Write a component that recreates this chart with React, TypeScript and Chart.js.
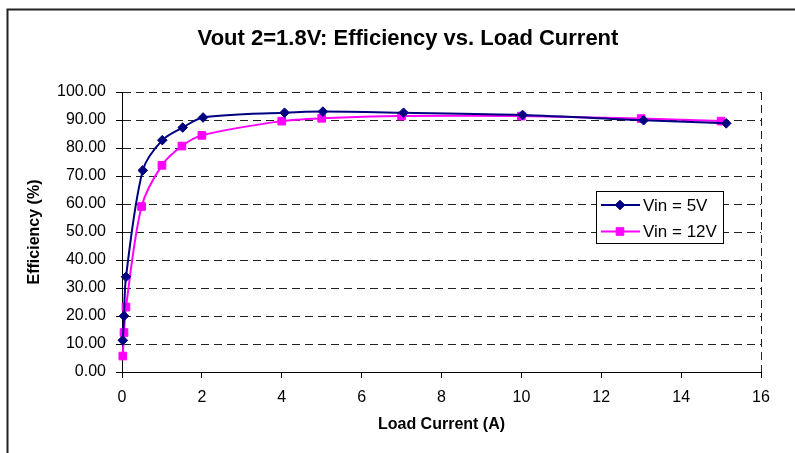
import React, { useEffect, useRef } from "react";
import { Chart, registerables } from "chart.js";

Chart.register(...registerables);

const chartTitle = "Vout 2=1.8V: Efficiency vs. Load Current";
const xAxisTitle = "Load Current (A)";
const yAxisTitle = "Efficiency (%)";

const seriesNames = ["Vin = 5V", "Vin = 12V"];
const seriesColors = ["#000080", "#FF00FF"];
const seriesMarkers = ["rectRot", "rect"];

const current5V = [0.02, 0.05, 0.1, 0.52, 1.01, 1.52, 2.03, 4.07, 5.03, 7.05, 10.03, 13.06, 15.13];
const eff5V = [11.3, 20.0, 34.0, 72.0, 82.8, 87.3, 90.9, 92.6, 93.0, 92.6, 91.8, 89.9, 88.8];

const current12V = [0.02, 0.05, 0.1, 0.49, 1.0, 1.5, 2.0, 4.0, 5.0, 7.0, 10.0, 13.0, 15.0];
const eff12V = [5.7, 14.1, 23.2, 59.1, 73.8, 80.7, 84.5, 89.6, 90.6, 91.4, 91.4, 90.5, 89.6];

const xMin = 0;
const xMax = 16;
const xStep = 2;
const yMin = 0;
const yMax = 100;
const yStep = 10;

const FONT = "'Liberation Sans', Arial, Helvetica, sans-serif";

const framePlugin = {
  id: "frameAndTitle",
  beforeDraw(chart: any) {
    const ctx = chart.ctx;
    ctx.save();
    ctx.fillStyle = "#ffffff";
    ctx.fillRect(0, 0, chart.width, chart.height);
    ctx.strokeStyle = "#222222";
    ctx.lineWidth = 2;
    ctx.strokeRect(7.5, 9.5, chart.width + 20, chart.height + 20);
    ctx.restore();
  },
  afterDraw(chart: any) {
    const ctx = chart.ctx;
    ctx.save();
    // title
    ctx.fillStyle = "#000";
    ctx.font = `bold 22px ${FONT}`;
    ctx.textAlign = "center";
    ctx.textBaseline = "middle";
    ctx.fillText(chartTitle, 408, 39);
    // legend
    const bx = 596.5, by = 191.5, bw = 127, bh = 52;
    ctx.fillStyle = "#fff";
    ctx.fillRect(bx, by, bw, bh);
    ctx.strokeStyle = "#000";
    ctx.lineWidth = 1;
    ctx.strokeRect(bx, by, bw, bh);
    const rows = [205, 231.5];
    chart.data.datasets.forEach((ds: any, i: number) => {
      const y = rows[i];
      ctx.strokeStyle = ds.borderColor;
      ctx.lineWidth = 2;
      ctx.beginPath();
      ctx.moveTo(601, y);
      ctx.lineTo(640, y);
      ctx.stroke();
      ctx.fillStyle = ds.backgroundColor;
      ctx.strokeStyle = ds.borderColor;
      ctx.lineWidth = 1;
      const r = ds.pointRadius;
      ctx.beginPath();
      if (ds.pointStyle === "rectRot") {
        ctx.moveTo(620, y - r);
        ctx.lineTo(620 + r, y);
        ctx.lineTo(620, y + r);
        ctx.lineTo(620 - r, y);
        ctx.closePath();
      } else {
        const s = r * Math.SQRT1_2;
        ctx.rect(620 - s, y - s, 2 * s, 2 * s);
      }
      ctx.fill();
      ctx.stroke();
      ctx.fillStyle = "#000";
      ctx.font = `17px ${FONT}`;
      ctx.textAlign = "left";
      ctx.textBaseline = "middle";
      ctx.fillText(ds.label, 643, y + 1);
    });
    ctx.restore();
  },
};

export default function App() {
  const canvasRef = useRef<HTMLCanvasElement | null>(null);

  useEffect(() => {
    if (!canvasRef.current) return;
    const makePoints = (xs: number[], ys: number[]) => xs.map((x, i) => ({ x, y: ys[i] }));
    const chart = new Chart(canvasRef.current, {
      type: "line",
      data: {
        datasets: [
          {
            label: seriesNames[0],
            data: makePoints(current5V, eff5V),
            borderColor: seriesColors[0],
            backgroundColor: seriesColors[0],
            pointStyle: seriesMarkers[0] as any,
            pointRadius: 4.8,
            pointBorderWidth: 1,
            borderWidth: 2,
            tension: 0.3,
            clip: false as any,
          },
          {
            label: seriesNames[1],
            data: makePoints(current12V, eff12V),
            borderColor: seriesColors[1],
            backgroundColor: seriesColors[1],
            pointStyle: seriesMarkers[1] as any,
            pointRadius: 5.4,
            pointBorderWidth: 1,
            borderWidth: 2,
            tension: 0.3,
            clip: false as any,
          },
        ],
      },
      plugins: [framePlugin],
      options: {
        animation: false,
        responsive: true,
        maintainAspectRatio: false,
        devicePixelRatio: 1,
        layout: { padding: { left: 0, top: 92, right: 34, bottom: 0 } },
        plugins: {
          legend: { display: false },
          title: { display: false },
          tooltip: { enabled: false },
        },
        scales: {
          x: {
            type: "linear",
            min: xMin,
            max: xMax,
            ticks: {
              stepSize: xStep,
              color: "#000",
              padding: 10,
              maxRotation: 0,
              font: { family: FONT, size: 16 },
            },
            grid: {
              color: (c: any) => (c.tick && c.tick.value === xMax ? "#222" : "transparent"),
              tickColor: "#000",
              tickLength: 6,
              lineWidth: 1,
            },
            border: { display: true, color: "#000", width: 1, dash: [8, 5] },
            title: {
              display: true,
              text: xAxisTitle,
              color: "#000",
              font: { family: FONT, size: 16, weight: "bold" },
              padding: { top: 0, bottom: 19 },
            },
            afterFit: (scale: any) => {
              scale.height = 81;
            },
          },
          y: {
            min: yMin,
            max: yMax,
            ticks: {
              stepSize: yStep,
              color: "#000",
              padding: 10,
              font: { family: FONT, size: 16 },
              callback: (v: any) => Number(v).toFixed(2),
            },
            grid: {
              color: "#222",
              tickColor: "#000",
              tickLength: 6,
              lineWidth: 1,
            },
            border: { display: true, color: "#000", width: 1, dash: [8, 5] },
            title: {
              display: true,
              text: yAxisTitle,
              color: "#000",
              font: { family: FONT, size: 16, weight: "bold" },
              padding: { top: 25, bottom: 0 },
            },
            afterFit: (scale: any) => {
              scale.width = 122;
            },
          },
        },
      },
    });
    return () => chart.destroy();
  }, []);

  return (
    <div
      style={{
        position: "fixed",
        left: 0,
        top: 0,
        width: 795,
        height: 453,
        background: "#fff",
      }}
    >
      <canvas ref={canvasRef} />
    </div>
  );
}
